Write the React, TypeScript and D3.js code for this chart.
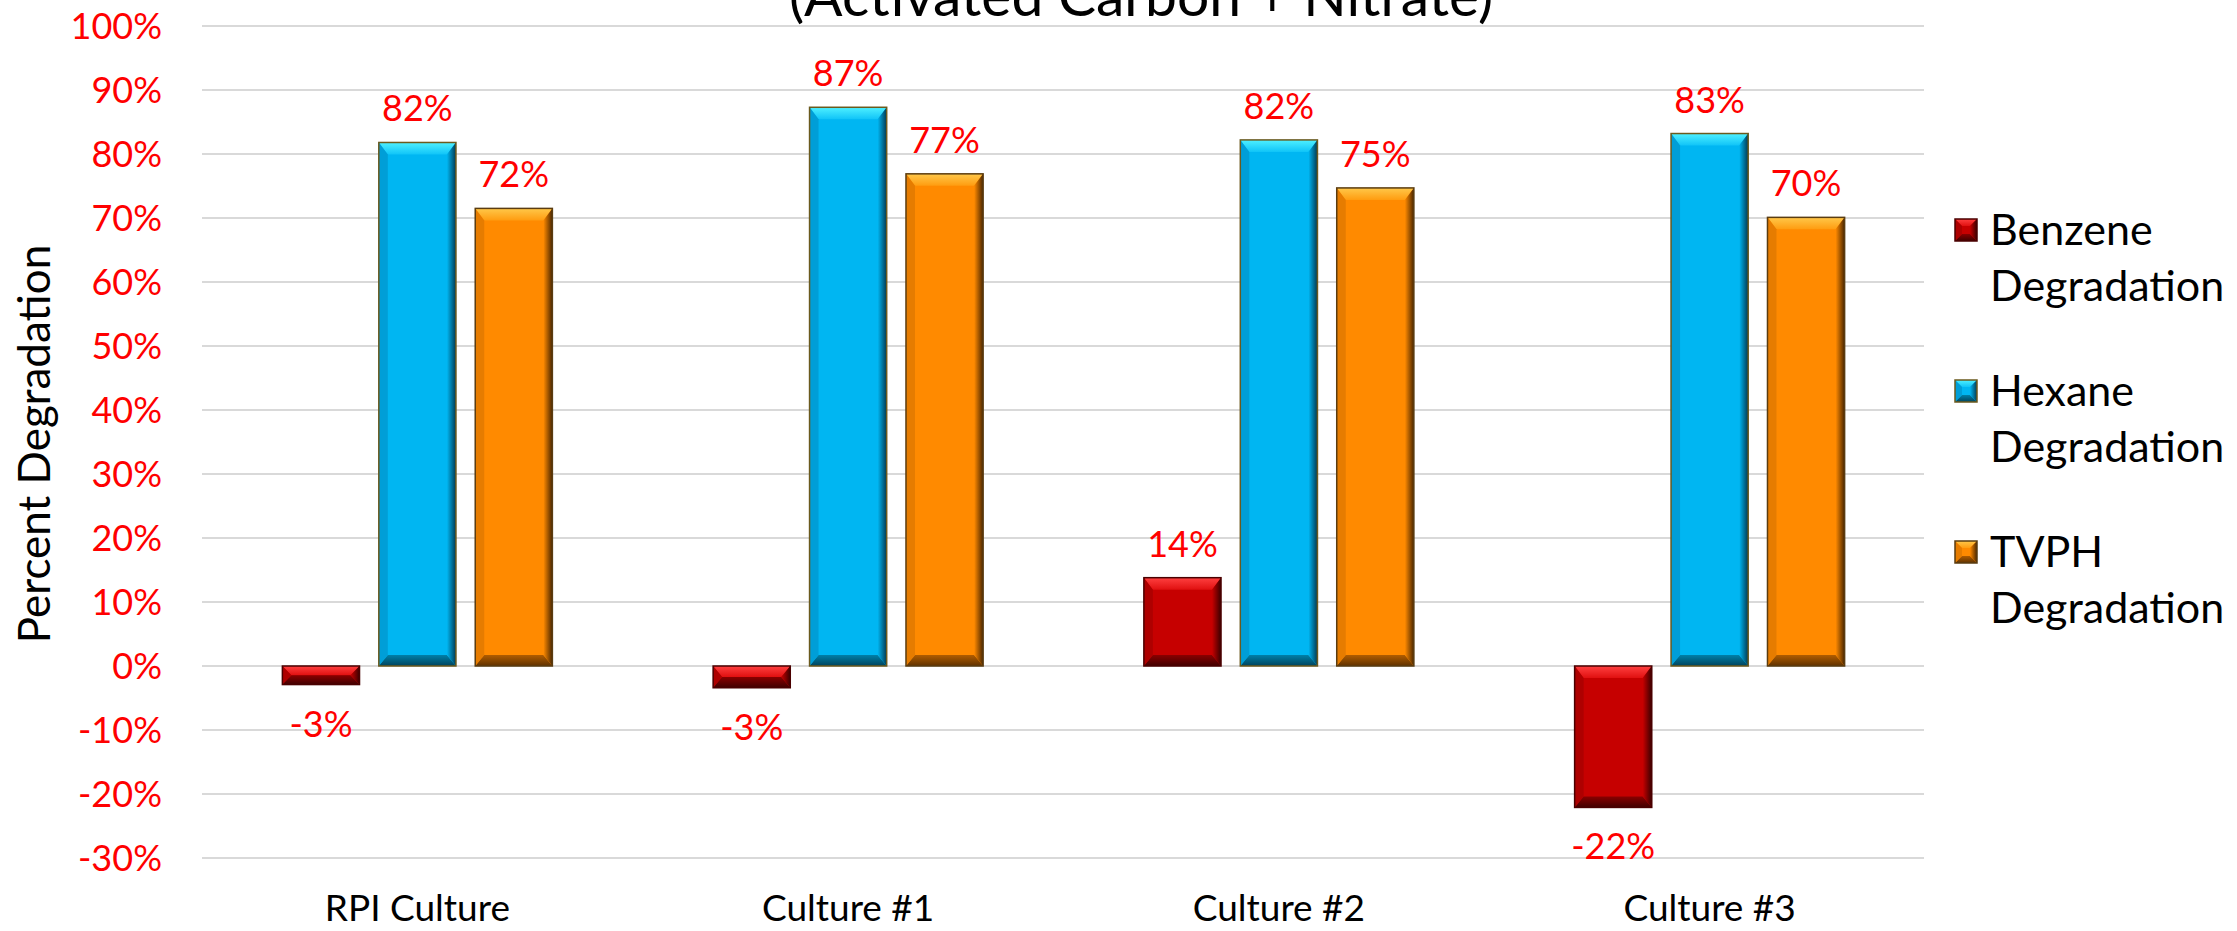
import React from 'react';
import * as d3 from 'd3';

const categories = ['RPI Culture', 'Culture #1', 'Culture #2', 'Culture #3'];
const seriesNames = ['Benzene Degradation', 'Hexane Degradation', 'TVPH Degradation'];
const benzene = [-2.9, -3.4, 13.8, -22.1];
const hexane = [81.8, 87.3, 82.2, 83.2];
const tvph = [71.5, 76.9, 74.7, 70.1];
const yTicks = [-30, -20, -10, 0, 10, 20, 30, 40, 50, 60, 70, 80, 90, 100];
const titleLine = '(Activated Carbon + Nitrate)';
const yAxisTitle = 'Percent Degradation';

const seriesValues = [benzene, hexane, tvph];

type Pal = { base: string; top1: string; top2: string; side: string; bottom1: string; bottom2: string; left: string; stroke: string };
const palettes: Pal[] = [
  { base: '#c60000', top1: '#ff4040', top2: '#e01010', side: '#3a0000', bottom1: '#8a0000', bottom2: '#400000', left: '#a80000', stroke: '#4a0000' },
  { base: '#00b6f2', top1: '#4ff0ff', top2: '#10c4f8', side: '#003a52', bottom1: '#0080a8', bottom2: '#00435c', left: '#0098d0', stroke: '#6b5a1e' },
  { base: '#ff8a00', top1: '#ffc84a', top2: '#ff9c10', side: '#4a2600', bottom1: '#b05c00', bottom2: '#603200', left: '#e07800', stroke: '#5a3c10' },
];

const W = 2237;
const H = 931;
const FONT = "Lato, 'Open Sans', 'Noto Sans', sans-serif";

function BevelRect({ x, y, w, h, pal, id, bt = 12, bs = 9, bb = 11 }: any) {
  const t = Math.min(bt, h / 2);
  const b = Math.min(bb, h / 2);
  const s = Math.min(bs, w / 2);
  const pts = (arr: number[][]) => arr.map((p) => p.join(',')).join(' ');
  return (
    <g>
      <rect x={x} y={y} width={w} height={h} fill={pal.base} />
      <polygon points={pts([[x, y], [x + w, y], [x + w - s, y + t], [x + s, y + t]])} fill={`url(#top-${id})`} />
      <polygon points={pts([[x, y + h], [x + w, y + h], [x + w - s, y + h - b], [x + s, y + h - b]])} fill={`url(#bot-${id})`} />
      <polygon points={pts([[x, y], [x + s, y + t], [x + s, y + h - b], [x, y + h]])} fill={pal.left} opacity={0.8} />
      <polygon points={pts([[x + w, y], [x + w - s, y + t], [x + w - s, y + h - b], [x + w, y + h]])} fill={`url(#side-${id})`} />
      <rect x={x} y={y} width={w} height={h} fill="none" stroke={pal.stroke} strokeWidth={1.5} />
    </g>
  );
}

export default function App() {
  const x0 = d3.scaleBand<string>().domain(categories).range([202, 1925]).padding(0);
  const x1 = d3.scaleBand<number>().domain([0, 1, 2]).range([-135, 135]).paddingInner(0.2).paddingOuter(0);
  const y = d3.scaleLinear().domain([-30, 100]).range([858, 26]);

  const plotL = 202;
  const plotR = 1924;

  return (
    <svg width={W} height={H} style={{ position: 'absolute', left: 0, top: 0, background: '#fff' }} fontFamily={FONT}>
      <defs>
        {palettes.map((p, i) => (
          <React.Fragment key={i}>
            <linearGradient id={`top-${i}`} x1="0" y1="0" x2="0" y2="1">
              <stop offset="0" stopColor={p.top1} />
              <stop offset="1" stopColor={p.top2} />
            </linearGradient>
            <linearGradient id={`bot-${i}`} x1="0" y1="0" x2="0" y2="1">
              <stop offset="0" stopColor={p.bottom1} />
              <stop offset="1" stopColor={p.bottom2} />
            </linearGradient>
            <linearGradient id={`side-${i}`} x1="0" y1="0" x2="1" y2="0">
              <stop offset="0" stopColor={p.base} />
              <stop offset="1" stopColor={p.side} />
            </linearGradient>
          </React.Fragment>
        ))}
      </defs>
      <rect x={0} y={0} width={W} height={H} fill="#fff" />

      {/* title (second line visible) */}
      <text x={1141} y={16} textAnchor="middle" fontSize={57} fill="#000">{titleLine}</text>

      {/* gridlines */}
      {yTicks.map((t) => (
        <line key={t} x1={plotL} x2={plotR} y1={y(t)} y2={y(t)} stroke="#d9d9d9" strokeWidth={2.2} />
      ))}

      {/* y tick labels */}
      {yTicks.map((t) => (
        <text key={t} x={162} y={y(t)} dy="0.36em" textAnchor="end" fontSize={36} fill="#ff0000">{`${t}%`}</text>
      ))}

      {/* y axis title */}
      <text transform={`translate(50,444) rotate(-90)`} textAnchor="middle" fontSize={44} fill="#000">{yAxisTitle}</text>

      {/* bars */}
      {categories.map((c, ci) => (
        <g key={c}>
          {seriesValues.map((vals, si) => {
            const v = vals[ci];
            const bx = (x0(c) as number) + x0.bandwidth() / 2 + (x1(si) as number);
            const bw = x1.bandwidth();
            const yTop = y(Math.max(0, v));
            const yBot = y(Math.min(0, v));
            return (
              <BevelRect key={si} x={bx} y={yTop} w={bw} h={yBot - yTop} pal={palettes[si]} id={si} />
            );
          })}
        </g>
      ))}

      {/* data labels */}
      {categories.map((c, ci) => (
        <g key={c}>
          {seriesValues.map((vals, si) => {
            const v = vals[ci];
            const cx = (x0(c) as number) + x0.bandwidth() / 2 + (x1(si) as number) + x1.bandwidth() / 2;
            const ly = v >= 0 ? y(v) - 21 : y(v) + 52;
            return (
              <text key={si} x={cx} y={ly} textAnchor="middle" fontSize={36} fill="#ff0000">{`${Math.round(v)}%`}</text>
            );
          })}
        </g>
      ))}

      {/* category labels */}
      {categories.map((c) => (
        <text key={c} x={(x0(c) as number) + x0.bandwidth() / 2} y={921} textAnchor="middle" fontSize={37} fill="#000">{c}</text>
      ))}

      {/* legend */}
      {seriesNames.map((n, i) => {
        const cy = 230 + i * 161;
        const parts = n.split(' ');
        return (
          <g key={n}>
            <BevelRect x={1955} y={cy - 11} w={22} h={22} pal={palettes[i]} id={i} bt={7} bs={7} bb={7} />
            <text x={1990} y={cy} dy="0.36em" fontSize={43} fill="#000">{parts[0]}</text>
            <text x={1990} y={cy + 56} dy="0.36em" fontSize={43} fill="#000">{parts.slice(1).join(' ')}</text>
          </g>
        );
      })}
    </svg>
  );
}
